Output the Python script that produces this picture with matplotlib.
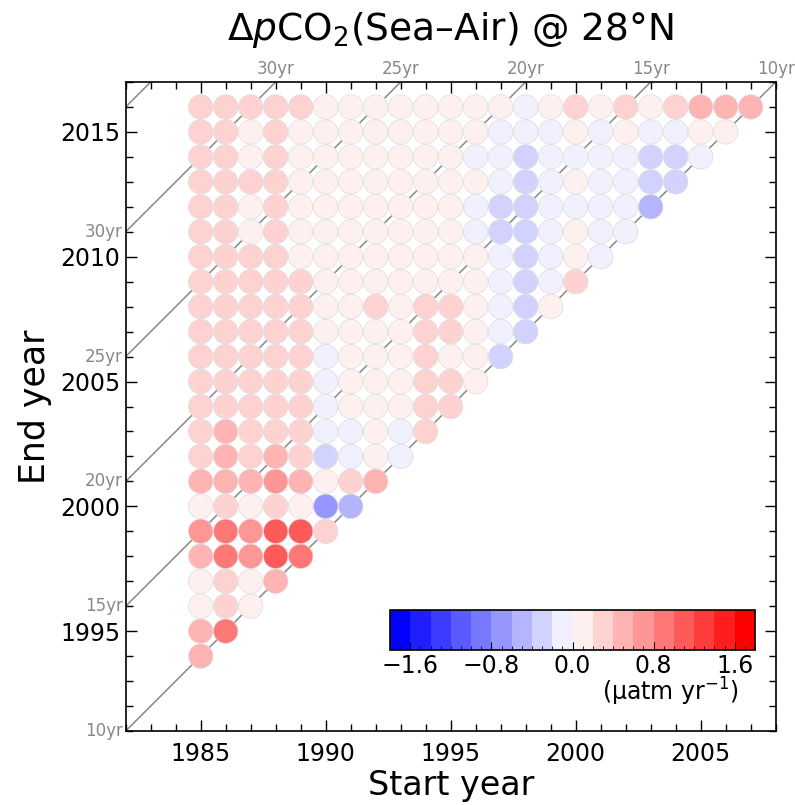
import numpy as np
import matplotlib
matplotlib.use("Agg")
import matplotlib.pyplot as plt
from matplotlib.colors import ListedColormap, BoundaryNorm
from matplotlib.ticker import MultipleLocator

# ---------------- data ----------------
first_start = 1985
end_years = list(range(1994, 2017))
# trend values (uatm/yr) for each end year, starting at start year 1985
trend_rows = {
    2016: [0.3, 0.3, 0.3, 0.3, 0.3, 0.1, 0.1, 0.1, 0.1, 0.1, 0.1, 0.1, 0.1, -0.1, 0.1, 0.3, 0.1, 0.3, 0.1, 0.3, 0.5, 0.5, 0.5],
    2015: [0.3, 0.3, 0.1, 0.3, 0.1, 0.1, 0.1, 0.1, 0.1, 0.1, 0.1, 0.1, -0.1, -0.1, -0.1, 0.1, -0.1, 0.1, -0.1, -0.1, 0.1, 0.1],
    2014: [0.3, 0.3, 0.1, 0.3, 0.1, 0.1, 0.1, 0.1, 0.1, 0.1, 0.1, -0.1, -0.1, -0.3, -0.1, -0.1, -0.1, -0.1, -0.3, -0.3, -0.1],
    2013: [0.3, 0.3, 0.3, 0.3, 0.1, 0.1, 0.1, 0.1, 0.1, 0.1, 0.1, 0.1, -0.1, -0.3, -0.1, 0.1, -0.1, -0.1, -0.3, -0.3],
    2012: [0.3, 0.3, 0.1, 0.3, 0.1, 0.1, 0.1, 0.1, 0.1, 0.1, 0.1, -0.1, -0.3, -0.3, -0.1, -0.1, -0.1, -0.1, -0.5],
    2011: [0.3, 0.3, 0.1, 0.3, 0.1, 0.1, 0.1, 0.1, 0.1, 0.1, 0.1, -0.1, -0.3, -0.3, -0.1, 0.1, -0.1, -0.1],
    2010: [0.3, 0.3, 0.3, 0.3, 0.1, 0.1, 0.1, 0.1, 0.1, 0.1, 0.1, 0.1, -0.1, -0.3, -0.1, 0.1, -0.1],
    2009: [0.3, 0.3, 0.3, 0.3, 0.3, 0.1, 0.1, 0.1, 0.1, 0.1, 0.1, 0.1, -0.1, -0.3, -0.1, 0.3],
    2008: [0.3, 0.3, 0.3, 0.3, 0.3, 0.1, 0.1, 0.3, 0.1, 0.3, 0.3, 0.1, -0.1, -0.3, 0.1],
    2007: [0.3, 0.3, 0.3, 0.3, 0.3, 0.1, 0.1, 0.1, 0.1, 0.3, 0.3, 0.1, -0.1, -0.3],
    2006: [0.3, 0.3, 0.3, 0.3, 0.3, -0.1, 0.1, 0.1, 0.1, 0.3, 0.1, 0.1, -0.3],
    2005: [0.3, 0.3, 0.3, 0.3, 0.3, -0.1, 0.1, 0.1, 0.1, 0.3, 0.3, 0.1],
    2004: [0.3, 0.3, 0.3, 0.3, 0.3, -0.1, 0.1, 0.1, 0.1, 0.3, 0.3],
    2003: [0.3, 0.5, 0.3, 0.3, 0.3, -0.1, -0.1, 0.1, -0.1, 0.3],
    2002: [0.3, 0.5, 0.3, 0.5, 0.3, -0.3, -0.1, 0.1, -0.1],
    2001: [0.5, 0.5, 0.5, 0.7, 0.5, 0.1, 0.3, 0.5],
    2000: [0.1, 0.3, 0.1, 0.3, 0.1, -0.7, -0.5],
    1999: [0.7, 0.9, 0.7, 1.1, 1.1, 0.3],
    1998: [0.5, 0.9, 0.7, 1.1, 0.9],
    1997: [0.1, 0.3, 0.1, 0.5],
    1996: [0.1, 0.3, 0.1],
    1995: [0.5, 0.9],
    1994: [0.5],
}
period_lengths = [10, 15, 20, 25, 30, 35]
labeled_lengths = [10, 15, 20, 25, 30]
cbar_ticks = [-1.6, -0.8, 0.0, 0.8, 1.6]
cbar_ticklabels = ['−1.6', '−0.8', '0.0', '0.8', '1.6']
level_bounds = np.round(np.arange(-1.8, 1.81, 0.2), 2)

plt.rcParams['font.family'] = ['DejaVu Sans']
plt.rcParams['mathtext.fontset'] = 'dejavusans'

# ---------------- colormap ----------------
centers = (level_bounds[:-1] + level_bounds[1:]) / 2
cols = []
for v in centers:
    f = 1 - abs(v) / 1.7
    cols.append((f, f, 1.0) if v < 0 else (1.0, f, f))
cmap = ListedColormap(cols)
norm = BoundaryNorm(level_bounds, cmap.N)

xs, ys, vs = [], [], []
for e in end_years:
    for i, v in enumerate(trend_rows[e]):
        xs.append(first_start + i)
        ys.append(e)
        vs.append(v)

W, H = 795, 805
fig = plt.figure(figsize=(W / 100, H / 100), dpi=100)
ax = fig.add_axes([125.7 / W, (H - 731) / H, 650 / W, 649 / H])
x0, x1, y0, y1 = 1982, 2008, 1991, 2017
ax.set_xlim(x0, x1)
ax.set_ylim(y0, y1)

grey = '#888888'
for L in period_lengths:
    xx = np.array([1970, 2020])
    ax.plot(xx, xx + L - 1, color=grey, lw=1.1, zorder=1, clip_on=True)

ax.scatter(xs, ys, c=vs, cmap=cmap, norm=norm, s=310, edgecolors='#dcdcdc',
           linewidths=0.5, zorder=3)

for L in labeled_lengths:
    yl = x0 + L - 1
    ax.annotate(f'{L}yr', xy=(x0, yl), xytext=(-2, 0), textcoords='offset points',
                ha='right', va='center', color=grey, fontsize=12, annotation_clip=False)
    xt = y1 - (L - 1)
    ax.annotate(f'{L}yr', xy=(xt, y1), xytext=(0, 3), textcoords='offset points',
                ha='center', va='bottom', color=grey, fontsize=12, annotation_clip=False)

ax.xaxis.set_major_locator(MultipleLocator(5))
ax.xaxis.set_minor_locator(MultipleLocator(1))
ax.yaxis.set_major_locator(MultipleLocator(5))
ax.yaxis.set_minor_locator(MultipleLocator(1))
ax.tick_params(which='both', direction='in', top=True, right=True, labelsize=17, width=1)
ax.tick_params(which='major', length=8)
ax.tick_params(which='minor', length=5)
ax.tick_params(axis='x', which='major', pad=8)
ax.tick_params(axis='y', which='major', pad=4)
for s in ax.spines.values():
    s.set_linewidth(1.2)

ax.set_xlabel('Start year', fontsize=24, labelpad=2)
ax.set_ylabel('End year', fontsize=25, labelpad=6)
ax.text(0.5, 1 + 52 / 649, r'$\Delta p$CO$_2$(Sea–Air) @ 28°N', transform=ax.transAxes,
        ha='center', va='center', fontsize=27)

# colorbar inside axes
cax = ax.inset_axes([(390 - 125.7) / 650, (731 - 650) / 649, 365 / 650, 40 / 649])
sm = matplotlib.cm.ScalarMappable(cmap=cmap, norm=norm)
cb = fig.colorbar(sm, cax=cax, orientation='horizontal', ticks=cbar_ticks)
cb.outline.set_linewidth(1.2)
cax.xaxis.set_minor_locator(MultipleLocator(0.1))
cax.tick_params(which='both', direction='in', labelsize=17, bottom=True, top=False)
cax.tick_params(which='major', length=6, pad=3)
cax.tick_params(which='minor', length=3)
cax.set_xticklabels(cbar_ticklabels)
cax.text(1.0 - 16 / 365, -1.05, r'(µatm yr$^{-1}$)', transform=cax.transAxes,
         ha='right', va='center', fontsize=17)

fig.savefig('out.png', dpi=100)
